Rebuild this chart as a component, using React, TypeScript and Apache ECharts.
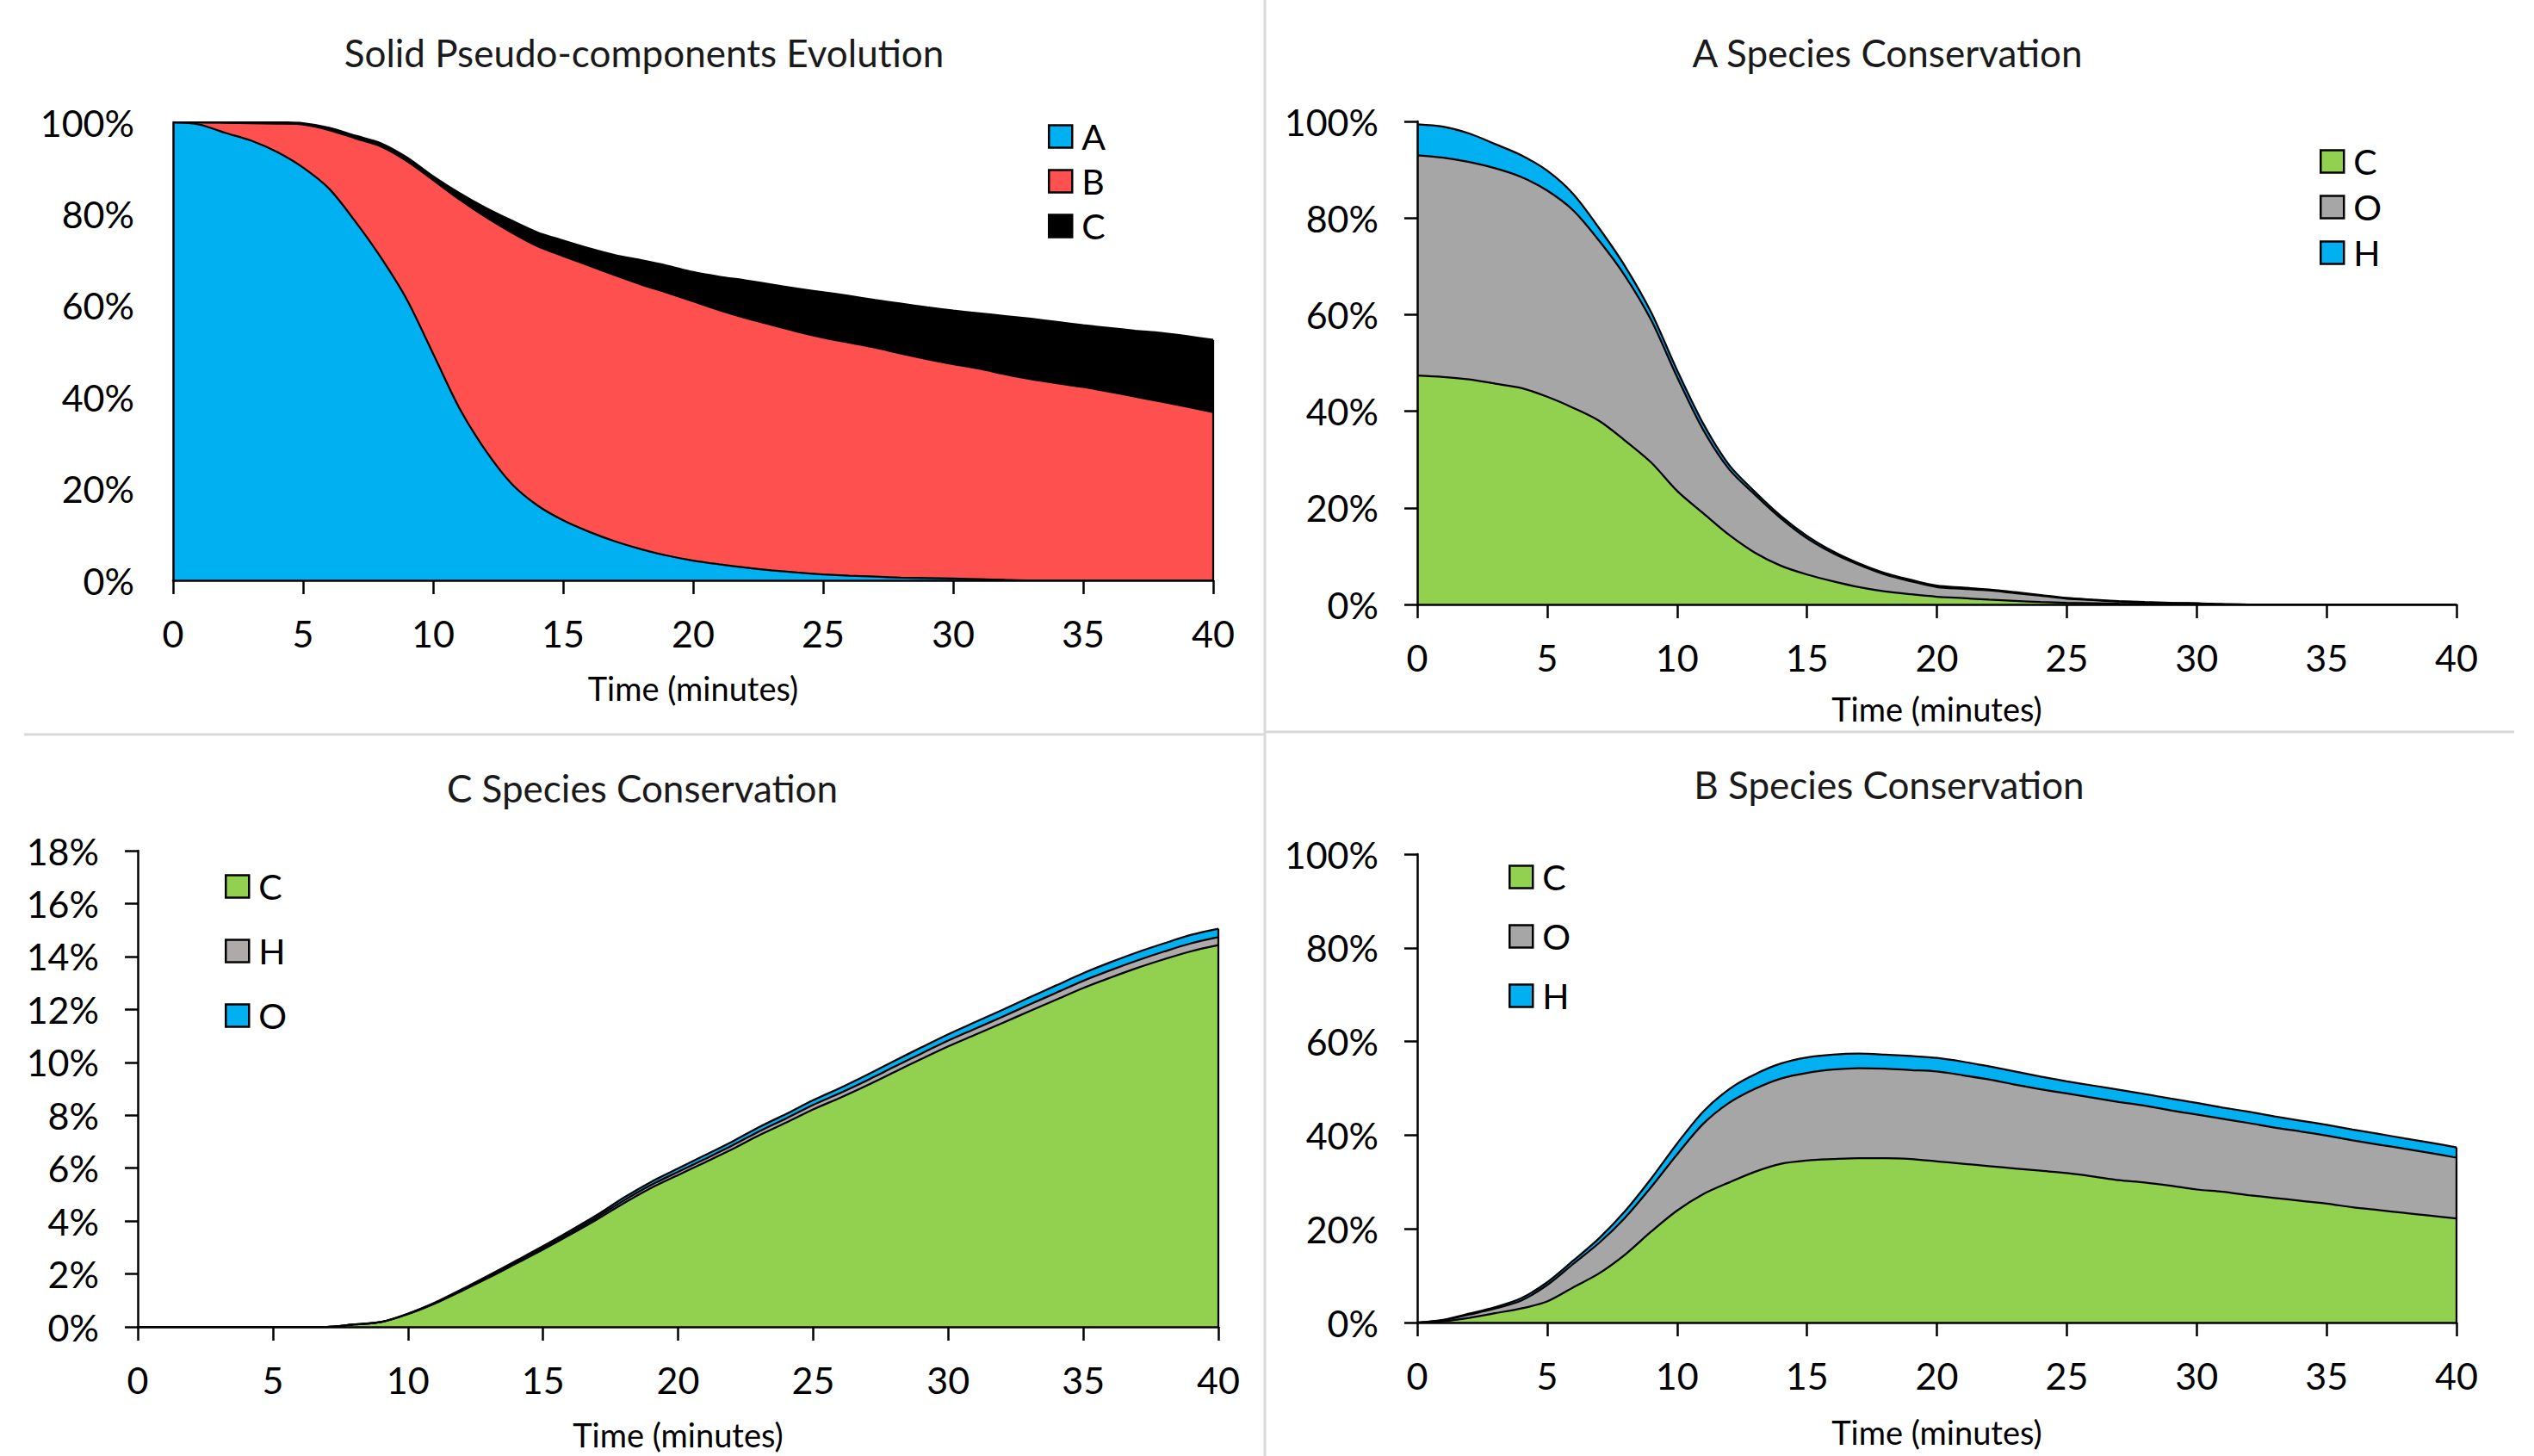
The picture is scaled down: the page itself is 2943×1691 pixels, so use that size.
import React, { useEffect, useRef } from 'react';
import * as echarts from 'echarts';

// ---------- data (percent) ----------
const MINUTES = [0, 1, 2, 3, 4, 5, 6, 7, 8, 9, 10, 11, 12, 13, 14, 15, 16, 17, 18, 19, 20, 21, 22, 23, 24, 25, 26, 27, 28, 29, 30, 31, 32, 33, 34, 35, 36, 37, 38, 39, 40];

// Solid Pseudo-components Evolution
const SOLID_A = [100, 99.5, 97.7, 96.0, 93.5, 90.1, 85.5, 78.4, 70.4, 61.2, 49.5, 37.7, 28.5, 21.2, 16.4, 13.1, 10.6, 8.5, 6.8, 5.4, 4.3, 3.5, 2.8, 2.2, 1.7, 1.3, 1.0, 0.8, 0.6, 0.5, 0.4, 0.25, 0.1, 0, 0, 0, 0, 0, 0, 0, 0];
const SOLID_B = [0, 0.5, 2.2, 3.8, 6.2, 9.4, 12.8, 18.1, 24.3, 30.3, 37.9, 45.5, 50.9, 54.8, 56.6, 57.7, 58.1, 58.1, 57.8, 57.4, 56.6, 55.5, 54.5, 53.6, 52.6, 51.7, 50.9, 50.0, 48.9, 47.8, 46.8, 45.95, 44.9, 43.9, 43.0, 42.2, 41.2, 40.1, 39.0, 37.9, 36.7];
const SOLID_C = [0, 0, 0.1, 0.2, 0.3, 0.3, 0.5, 0.6, 0.7, 0.8, 0.8, 1.4, 2.0, 2.6, 3.0, 3.4, 3.8, 4.4, 5.3, 5.9, 6.4, 7.3, 8.2, 8.8, 9.4, 9.9, 10.2, 10.4, 10.9, 11.3, 11.7, 12.1, 12.7, 13.2, 13.4, 13.5, 13.9, 14.4, 15.0, 15.4, 15.8];

// A Species Conservation
const A_SPECIES_C = [47.4, 47.1, 46.6, 45.7, 44.8, 43.0, 40.7, 38.0, 33.9, 29.4, 23.5, 18.9, 14.4, 10.7, 8.0, 6.2, 4.8, 3.6, 2.7, 2.1, 1.6, 1.3, 1.0, 0.75, 0.5, 0.35, 0.25, 0.15, 0.1, 0.05, 0, 0, 0, 0, 0, 0, 0, 0, 0, 0, 0];
const A_SPECIES_O = [45.6, 45.4, 45.0, 44.6, 43.7, 42.7, 40.9, 37.3, 34.1, 29.5, 23.6, 17.3, 13.6, 12.0, 9.8, 7.5, 5.8, 4.6, 3.5, 2.7, 2.0, 1.95, 1.9, 1.6, 1.3, 0.85, 0.65, 0.45, 0.3, 0.25, 0.2, 0.05, 0, 0, 0, 0, 0, 0, 0, 0, 0];
const A_SPECIES_H = [6.4, 6.4, 5.9, 5.0, 4.5, 4.1, 3.4, 2.6, 2.0, 1.6, 1.4, 1.3, 0.9, 0.6, 0.5, 0.5, 0.4, 0.3, 0.3, 0.3, 0.3, 0.25, 0.2, 0.2, 0.15, 0.15, 0.1, 0.1, 0.1, 0.05, 0.05, 0, 0, 0, 0, 0, 0, 0, 0, 0, 0];

// C Species Conservation
const C_SPECIES_C = [0, 0, 0, 0, 0, 0, 0, 0, 0.09, 0.18, 0.48, 0.88, 1.36, 1.86, 2.39, 2.92, 3.48, 4.06, 4.68, 5.25, 5.74, 6.22, 6.71, 7.24, 7.72, 8.22, 8.66, 9.13, 9.63, 10.12, 10.6, 11.04, 11.48, 11.93, 12.37, 12.81, 13.2, 13.57, 13.9, 14.2, 14.43];
const C_SPECIES_H = [0, 0, 0, 0, 0, 0, 0, 0, 0, 0, 0.01, 0.02, 0.03, 0.04, 0.05, 0.06, 0.07, 0.08, 0.10, 0.11, 0.12, 0.13, 0.14, 0.15, 0.16, 0.17, 0.18, 0.19, 0.20, 0.21, 0.22, 0.23, 0.24, 0.25, 0.26, 0.27, 0.28, 0.28, 0.29, 0.30, 0.30];
const C_SPECIES_O = [0, 0, 0, 0, 0, 0, 0, 0, 0, 0, 0.01, 0.02, 0.03, 0.05, 0.06, 0.07, 0.08, 0.09, 0.11, 0.12, 0.13, 0.14, 0.15, 0.16, 0.17, 0.18, 0.19, 0.21, 0.22, 0.23, 0.24, 0.25, 0.26, 0.27, 0.28, 0.29, 0.30, 0.31, 0.31, 0.32, 0.32];

// B Species Conservation
const B_SPECIES_C = [0, 0.3, 1.0, 2.0, 3.0, 4.5, 7.5, 10.5, 14.5, 19.4, 23.9, 27.4, 29.9, 32.2, 33.9, 34.6, 34.9, 35.1, 35.1, 34.9, 34.4, 33.9, 33.4, 32.9, 32.4, 31.9, 31.2, 30.4, 29.9, 29.2, 28.4, 27.9, 27.2, 26.6, 26.0, 25.4, 24.6, 24.0, 23.4, 22.8, 22.2];
const B_SPECIES_O = [0, 0.2, 0.7, 1.0, 1.7, 3.5, 5.0, 6.5, 7.9, 9.5, 12.0, 15.0, 17.0, 17.7, 18.2, 18.7, 19.1, 19.2, 19.1, 19.0, 19.2, 18.9, 18.5, 17.9, 17.4, 17.0, 16.8, 16.7, 16.4, 16.1, 16.0, 15.6, 15.4, 15.0, 14.8, 14.5, 14.3, 14.0, 13.7, 13.4, 13.0];
const B_SPECIES_H = [0, 0.1, 0.2, 0.3, 0.5, 0.6, 0.7, 1.0, 1.4, 1.8, 2.3, 2.6, 2.9, 3.1, 3.2, 3.3, 3.2, 3.1, 3.0, 3.0, 2.9, 2.9, 2.8, 2.8, 2.7, 2.6, 2.6, 2.6, 2.5, 2.5, 2.5, 2.4, 2.4, 2.4, 2.3, 2.3, 2.3, 2.3, 2.2, 2.2, 2.2];

const TITLES = ['Solid Pseudo-components Evolution', 'A Species Conservation', 'C Species Conservation', 'B Species Conservation'];
const X_NAME = 'Time (minutes)';

// ---------- styles ----------
const FONT = 'Lato';
const BLUE = '#00B0F0';
const RED = '#FF5050';
const BLACK = '#000000';
const GREEN = '#92D050';
const GRAY = '#A6A6A6';
const GRAY_LIGHT = '#AEAAAA';

const PANELS = [
  {
    key: 'p1', title: TITLES[0], titleX: 748, titleY: 61,
    grid: { left: 201, top: 142, width: 1208, height: 532 },
    yMax: 100, yInterval: 20, yTicks: false, nameGap: 106,
    legend: { left: 1212, top: 133, gap: 11 },
    series: [
      { name: 'A', data: SOLID_A, color: BLUE },
      { name: 'B', data: SOLID_B, color: RED },
      { name: 'C', data: SOLID_C, color: BLACK },
    ],
  },
  {
    key: 'p2', title: TITLES[1], titleX: 2192, titleY: 61,
    grid: { left: 1646, top: 141, width: 1207, height: 561 },
    yMax: 100, yInterval: 20, yTicks: true, nameGap: 102,
    legend: { left: 2689, top: 162, gap: 12 },
    series: [
      { name: 'C', data: A_SPECIES_C, color: GREEN },
      { name: 'O', data: A_SPECIES_O, color: GRAY },
      { name: 'H', data: A_SPECIES_H, color: BLUE },
    ],
  },
  {
    key: 'p3', title: TITLES[2], titleX: 746, titleY: 915,
    grid: { left: 160, top: 988, width: 1255, height: 553 },
    yMax: 18, yInterval: 2, yTicks: true, nameGap: 106,
    legend: { left: 256, top: 1004, gap: 34 },
    series: [
      { name: 'C', data: C_SPECIES_C, color: GREEN },
      { name: 'H', data: C_SPECIES_H, color: GRAY_LIGHT },
      { name: 'O', data: C_SPECIES_O, color: BLUE },
    ],
  },
  {
    key: 'p4', title: TITLES[3], titleX: 2194, titleY: 911,
    grid: { left: 1646, top: 992, width: 1207, height: 544 },
    yMax: 100, yInterval: 20, yTicks: true, nameGap: 108,
    legend: { left: 1747, top: 993, gap: 28 },
    series: [
      { name: 'C', data: B_SPECIES_C, color: GREEN },
      { name: 'O', data: B_SPECIES_O, color: GRAY },
      { name: 'H', data: B_SPECIES_H, color: BLUE },
    ],
  },
];

function buildOption() {
  const grids: any[] = [];
  const xAxes: any[] = [];
  const yAxes: any[] = [];
  const series: any[] = [];
  const legends: any[] = [];
  const graphics: any[] = [];

  PANELS.forEach((p, i) => {
    grids.push({ ...p.grid, containLabel: false });
    xAxes.push({
      type: 'category', gridIndex: i, data: MINUTES.map(String), boundaryGap: false,
      name: X_NAME, nameLocation: 'middle', nameGap: p.nameGap,
      nameTextStyle: { fontFamily: FONT, fontSize: 38, color: '#000' },
      axisLine: { show: true, onZero: false, lineStyle: { color: '#000', width: 2.5 } },
      axisTick: { show: true, inside: false, length: 16, interval: 4, lineStyle: { color: '#000', width: 2.5 } },
      axisLabel: { fontFamily: FONT, fontSize: 43, color: '#000', margin: 40, interval: 4, showMaxLabel: true },
      splitLine: { show: false },
      z: 5,
    });
    yAxes.push({
      type: 'value', gridIndex: i, min: 0, max: p.yMax, interval: p.yInterval,
      axisLine: { show: true, lineStyle: { color: '#000', width: 2.5 } },
      axisTick: { show: p.yTicks, inside: false, length: 15, lineStyle: { color: '#000', width: 2.5 } },
      axisLabel: { fontFamily: FONT, fontSize: 43, color: '#000', margin: 45, formatter: '{value}%' },
      splitLine: { show: false },
      z: 5,
    });
    p.series.forEach((s) => {
      series.push({
        type: 'line', name: `${p.key}-${s.name}`, xAxisIndex: i, yAxisIndex: i,
        stack: `${p.key}-area`, data: s.data, symbol: 'none', showSymbol: false, smooth: 0.3,
        lineStyle: { width: 0, color: s.color }, itemStyle: { color: s.color },
        areaStyle: { color: s.color, opacity: 1 }, z: 2, silent: true,
      });
    });
    const last = MINUTES.length - 1;
    const total = p.series.reduce((acc, s) => acc + s.data[last], 0);
    p.series.forEach((s, si) => {
      const edge: any = {
        type: 'line', name: `${p.key}-${s.name}-edge`, xAxisIndex: i, yAxisIndex: i,
        stack: `${p.key}-edge`, data: s.data, symbol: 'none', showSymbol: false, smooth: 0.3,
        lineStyle: { width: 2.25, color: '#000' }, itemStyle: { color: '#000' }, z: 3, silent: true,
      };
      if (si === 0) {
        edge.markLine = {
          silent: true, symbol: 'none', animation: false,
          label: { show: false },
          lineStyle: { color: '#000', width: 2.25, type: 'solid' },
          data: [[{ coord: [String(MINUTES[last]), 0] }, { coord: [String(MINUTES[last]), total] }]],
        };
      }
      series.push(edge);
    });
    legends.push({
      orient: 'vertical', left: p.legend.left, top: p.legend.top, itemWidth: 27, itemHeight: 26,
      itemGap: p.legend.gap, icon: 'rect', selectedMode: false,
      data: p.series.map((s) => ({ name: `${p.key}-${s.name}`, itemStyle: { color: s.color, borderColor: '#000', borderWidth: 2.5 } })),
      formatter: (n: string) => n.split('-')[1],
      textStyle: { fontFamily: FONT, fontSize: 41, color: '#000', lineHeight: 40, padding: [0, 0, 0, 6] },
    });
    graphics.push({
      type: 'text', x: p.titleX, y: p.titleY,
      style: { text: p.title, fill: '#1a1a1a', font: `44px ${FONT}`, textAlign: 'center', textVerticalAlign: 'middle' },
    });
  });

  // panel borders
  graphics.push({ type: 'line', shape: { x1: 1469, y1: 0, x2: 1469, y2: 1691 }, style: { stroke: '#D9D9D9', lineWidth: 3 } });
  graphics.push({ type: 'line', shape: { x1: 28, y1: 853, x2: 1469, y2: 853 }, style: { stroke: '#D9D9D9', lineWidth: 3 } });
  graphics.push({ type: 'line', shape: { x1: 1469, y1: 850, x2: 2920, y2: 850 }, style: { stroke: '#D9D9D9', lineWidth: 3 } });

  return {
    animation: false,
    backgroundColor: '#ffffff',
    grid: grids,
    xAxis: xAxes,
    yAxis: yAxes,
    legend: legends,
    series,
    graphic: graphics,
  };
}

export default function App() {
  const ref = useRef<HTMLDivElement>(null);
  useEffect(() => {
    if (!ref.current) return;
    const chart = echarts.init(ref.current, undefined, { renderer: 'svg' });
    chart.setOption(buildOption() as any);
    return () => chart.dispose();
  }, []);
  return (
    <div
      ref={ref}
      style={{ position: 'fixed', left: 0, top: 0, width: 2943, height: 1691, background: '#fff' }}
    />
  );
}
